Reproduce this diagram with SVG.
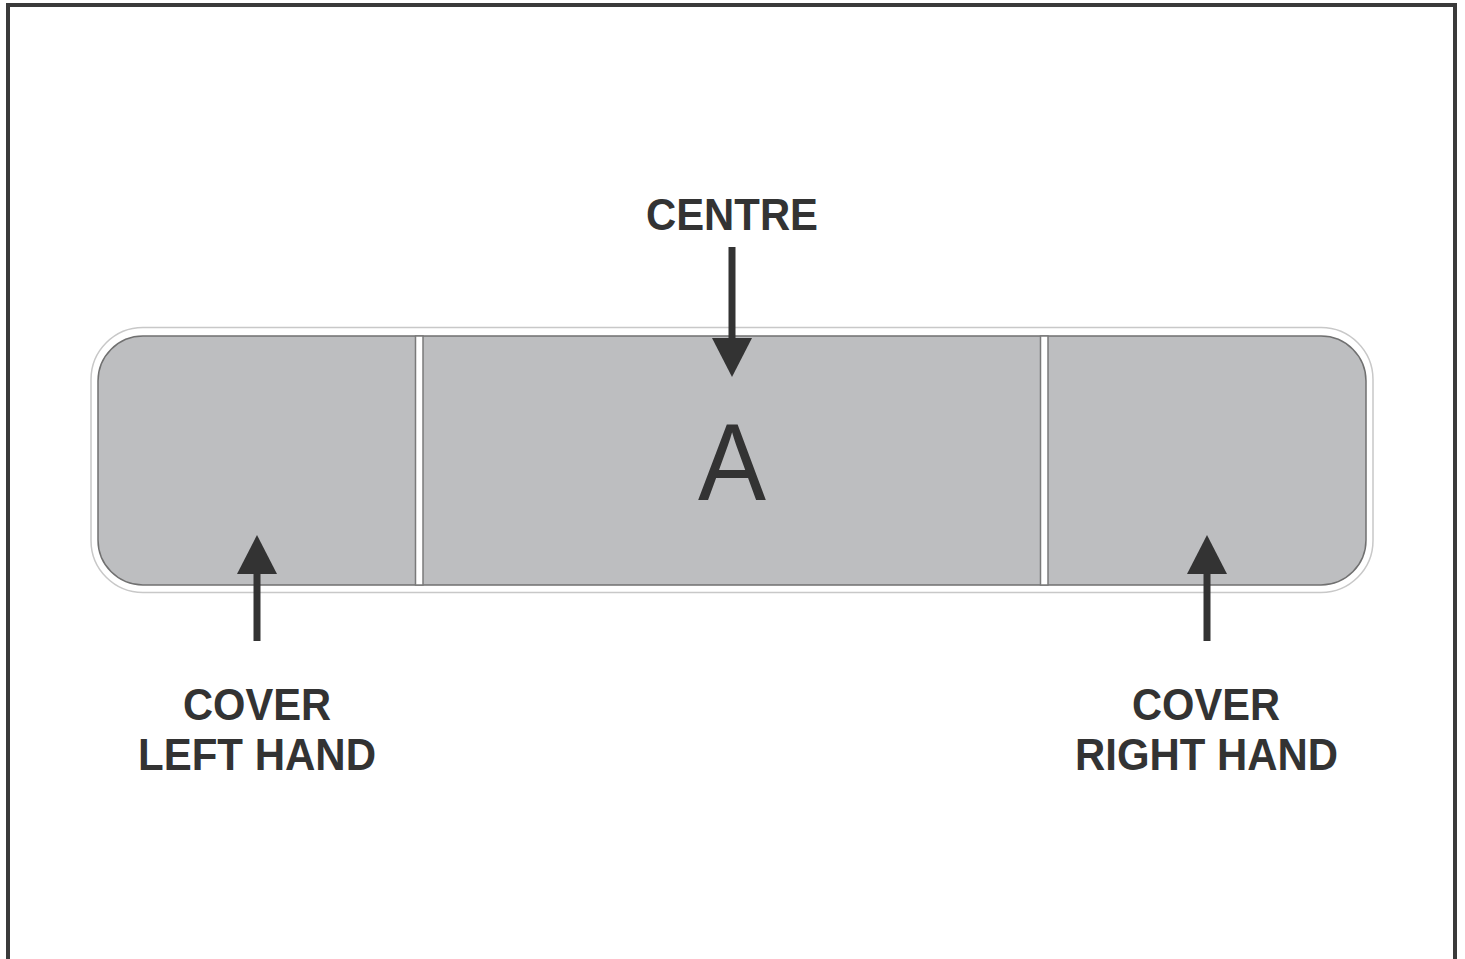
<svg xmlns="http://www.w3.org/2000/svg" width="1465" height="959" viewBox="0 0 1465 959">
<defs>
<style>
.lbl{font-family:"Liberation Sans",Arial,sans-serif;font-weight:bold;font-size:45px;fill:#333333;text-anchor:middle}
.big{font-family:"Liberation Sans",Arial,sans-serif;font-size:110px;fill:#333333;text-anchor:middle}
.shaft{stroke:#333333;stroke-width:7;fill:none}
.head{fill:#333333}
.div{fill:#ffffff;stroke:#7a7a7a;stroke-width:1.5}
</style>
</defs>
<rect x="0" y="0" width="1465" height="959" fill="#ffffff"/>
<rect id="frame" x="8" y="5" width="1447" height="980" fill="none" stroke="#3a3a3a" stroke-width="4"/>
<g id="panel">
<rect x="91" y="327.5" width="1282" height="265" rx="52" fill="#ffffff" stroke="#c8c8c8" stroke-width="1.5"/>
<rect x="98" y="336" width="1268" height="249" rx="45" fill="#bdbec0" stroke="#707070" stroke-width="1.5"/>
<rect class="div" x="415.5" y="336" width="7.5" height="249"/>
<rect class="div" x="1040.5" y="336" width="7.5" height="249"/>
</g>
<g id="centre">
<text class="lbl" x="732" y="230" textLength="172" lengthAdjust="spacingAndGlyphs">CENTRE</text>
<text class="big" x="732" y="500" textLength="68" lengthAdjust="spacingAndGlyphs">A</text>
</g>
<g id="left">
<text class="lbl" x="257" y="720" textLength="148" lengthAdjust="spacingAndGlyphs">COVER</text>
<text class="lbl" x="257" y="770" textLength="238" lengthAdjust="spacingAndGlyphs">LEFT HAND</text>
</g>
<g id="right">
<text class="lbl" x="1206" y="720" textLength="148" lengthAdjust="spacingAndGlyphs">COVER</text>
<text class="lbl" x="1206.5" y="770" textLength="263" lengthAdjust="spacingAndGlyphs">RIGHT HAND</text>
</g>
<g id="connectors">
<line class="shaft" x1="732" y1="247" x2="732" y2="345"/>
<polygon class="head" points="712,338 752,338 732,377"/>
<line class="shaft" x1="257" y1="641" x2="257" y2="568"/>
<polygon class="head" points="237,574 277,574 257,535"/>
<line class="shaft" x1="1207" y1="641" x2="1207" y2="568"/>
<polygon class="head" points="1187,574 1227,574 1207,535"/>
</g>
</svg>
